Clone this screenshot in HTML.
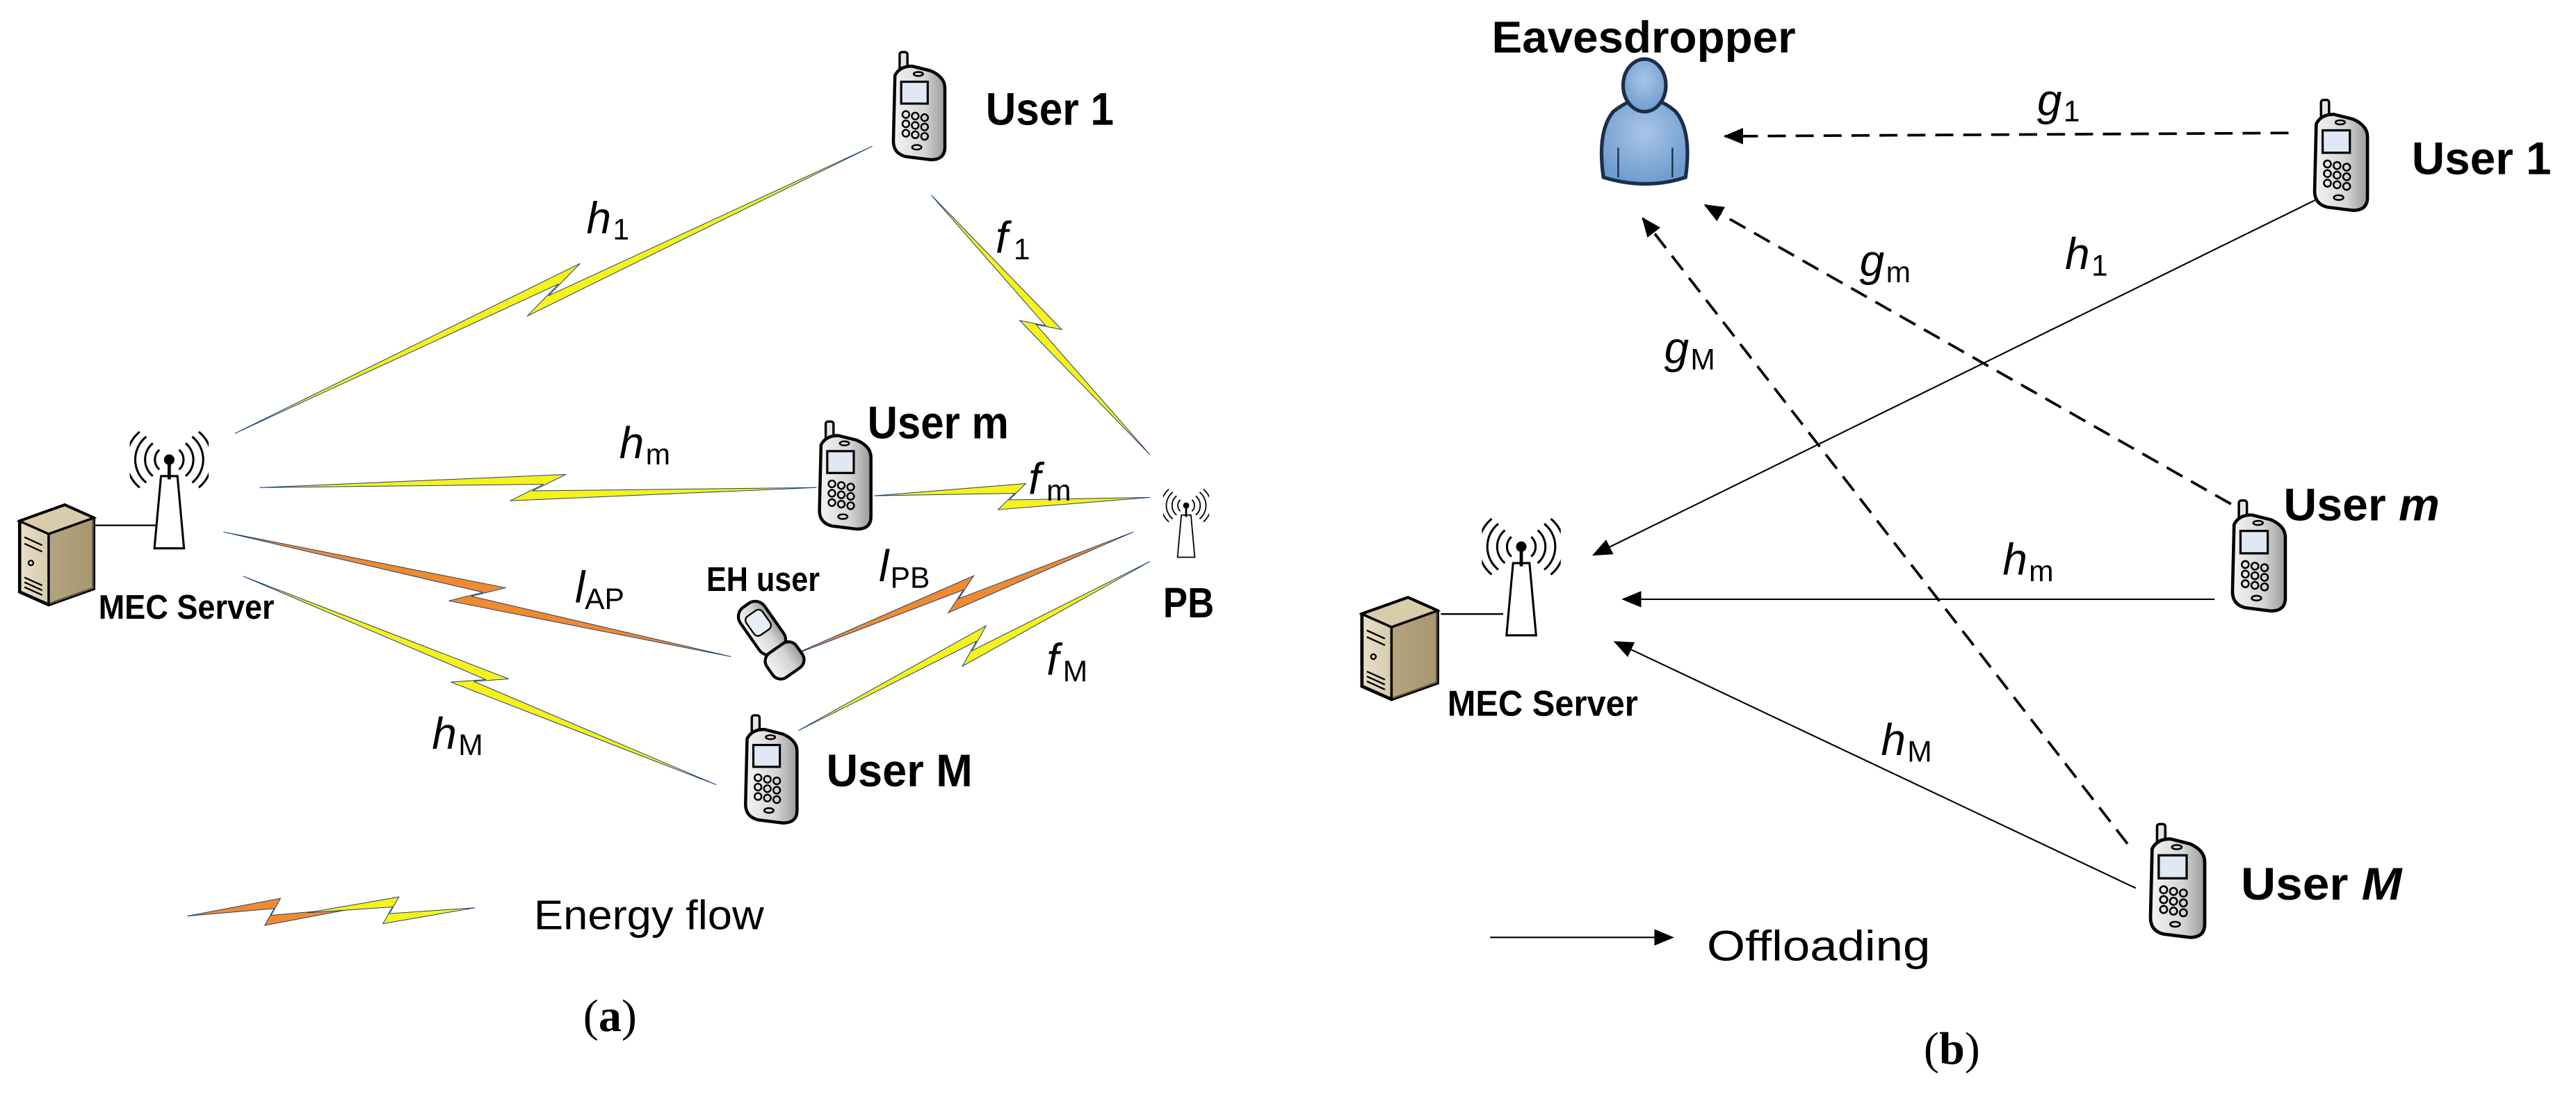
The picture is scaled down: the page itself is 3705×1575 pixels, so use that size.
<!DOCTYPE html>
<html><head><meta charset="utf-8"><style>
html,body{margin:0;padding:0;background:#fff;}
svg{display:block;}
text{font-family:"Liberation Sans",sans-serif;fill:#000;}
.b{font-weight:bold;}
.it{font-style:italic;}
.sr{font-family:"Liberation Serif",serif;}
</style></head><body>
<svg width="3705" height="1575" viewBox="0 0 1568 667" preserveAspectRatio="none" xmlns="http://www.w3.org/2000/svg">
<defs>
<linearGradient id="pg" x1="0" x2="1"><stop offset="0" stop-color="#f4f4f4"/><stop offset="0.6" stop-color="#d4d4d4"/><stop offset="1" stop-color="#9a9a9a"/></linearGradient>
<linearGradient id="sg" x1="0" x2="1"><stop offset="0" stop-color="#e9e0c8"/><stop offset="1" stop-color="#b9a983"/></linearGradient>
<radialGradient id="bg" cx="0.5" cy="0.4" r="0.6"><stop offset="0" stop-color="#a9c6e6"/><stop offset="1" stop-color="#6e9ccf"/></radialGradient>
<symbol id="phone" viewBox="0 0 40 72">
<rect x="8" y="1" width="5" height="12" rx="1.5" fill="#e6e6e6" stroke="#000" stroke-width="1.5"/>
<path d="M5 16 Q8 10 16 10 L28 13 Q37 17 37 24 L37 62 Q37 70 28 70 L12 68 Q4 66 4 58 Z" fill="url(#pg)" stroke="#000" stroke-width="2"/>
<rect x="9" y="20" width="17" height="14" fill="#dfe8f4" stroke="#000" stroke-width="1.4"/>
<g fill="none" stroke="#000" stroke-width="1.1">
<circle cx="12" cy="41" r="2.2"/><circle cx="18" cy="42" r="2.2"/><circle cx="24" cy="43" r="2.2"/>
<circle cx="12" cy="47" r="2.2"/><circle cx="18" cy="48" r="2.2"/><circle cx="24" cy="49" r="2.2"/>
<circle cx="12" cy="53" r="2.2"/><circle cx="18" cy="54" r="2.2"/><circle cx="24" cy="55" r="2.2"/>
<ellipse cx="19" cy="62" rx="3" ry="1.5"/><ellipse cx="20" cy="15" rx="3" ry="1.3"/></g>
</symbol>
<symbol id="server" viewBox="0 0 50 66">
<path d="M2 12 L30 2 L48 10 L48 54 L20 64 L2 56 Z" fill="url(#sg)" stroke="#000" stroke-width="2"/>
<path d="M2 12 L30 2 L48 10 L20 20 Z" fill="#d9ccaa"/>
<path d="M20 20 L48 10 L48 54 L20 64 Z" fill="#9d8a63" opacity="0.6"/>
<path d="M2 12 L30 2 L48 10 L20 20 Z M20 20 L20 64" fill="none" stroke="#000" stroke-width="1.5"/>
<g stroke="#000" stroke-width="1" fill="none"><path d="M5 22 L16 27 M5 26 L16 31 M5 47 L16 52 M5 50 L16 55 M5 53 L16 58"/><circle cx="9" cy="38" r="1.5"/></g>
</symbol>
<symbol id="ant" viewBox="0 0 48 74">
<path d="M19 28 L29 28 L33 72 L15 72 Z" fill="#fff" stroke="#000" stroke-width="1.3"/>
<line x1="24" y1="18" x2="24" y2="30" stroke="#000" stroke-width="2"/>
<circle cx="24" cy="18" r="3.2" fill="#000"/>
<g fill="none" stroke="#000" stroke-width="1.3">
<path d="M18 12 A8 8 0 0 0 18 24 M30 12 A8 8 0 0 1 30 24"/>
<path d="M14 8 A13 13 0 0 0 14 28 M34 8 A13 13 0 0 1 34 28"/>
<path d="M10 4 A18 18 0 0 0 10 32 M38 4 A18 18 0 0 1 38 32"/>
<path d="M6 1 A22 22 0 0 0 6 35 M42 1 A22 22 0 0 1 42 35"/>
</g></symbol>
<marker id="ah" viewBox="0 0 12 10" refX="11" refY="5" markerWidth="12" markerHeight="10" markerUnits="userSpaceOnUse" orient="auto">
<path d="M0 0 L12 5 L0 10 Z" fill="#000"/></marker>
</defs>

<!-- ============ Panel (a) ============ -->
<g>
<g transform="translate(143,264) rotate(-24.27) scale(0.4256,1)"><polygon points="0,0 550,-8 490,2 1000,0 450,8 510,-2" fill="#f6f21a" stroke="#1f3f7a" vector-effect="non-scaling-stroke"/></g>
<g transform="translate(567,119) rotate(49.91) scale(0.2065,1)"><polygon points="0,0 550,-8 490,2 1000,0 450,8 510,-2" fill="#f6f21a" stroke="#1f3f7a" vector-effect="non-scaling-stroke"/></g>
<g transform="translate(158,297) rotate(0) scale(0.339,1)"><polygon points="0,0 550,-8 490,2 1000,0 450,8 510,-2" fill="#f6f21a" stroke="#1f3f7a" vector-effect="non-scaling-stroke"/></g>
<g transform="translate(532,302) rotate(0.34) scale(0.168,1)"><polygon points="0,0 550,-8 490,2 1000,0 450,8 510,-2" fill="#f6f21a" stroke="#1f3f7a" vector-effect="non-scaling-stroke"/></g>
<g transform="translate(136,324) rotate(13.82) scale(0.3182,1)"><polygon points="0,0 550,-8 490,2 1000,0 450,8 510,-2" fill="#f08a2c" stroke="#1f3f7a" vector-effect="non-scaling-stroke"/></g>
<g transform="translate(480,400) rotate(-19.9) scale(0.2233,1)"><polygon points="0,0 550,-8 490,2 1000,0 450,8 510,-2" fill="#f08a2c" stroke="#1f3f7a" vector-effect="non-scaling-stroke"/></g>
<g transform="translate(148,351) rotate(23.8) scale(0.3148,1)"><polygon points="0,0 550,-8 490,2 1000,0 450,8 510,-2" fill="#f6f21a" stroke="#1f3f7a" vector-effect="non-scaling-stroke"/></g>
<g transform="translate(486,445) rotate(-25.7) scale(0.2375,1)"><polygon points="0,0 550,-8 490,2 1000,0 450,8 510,-2" fill="#f6f21a" stroke="#1f3f7a" vector-effect="non-scaling-stroke"/></g>
<g transform="translate(114,558) rotate(-2.8) scale(0.104,1)"><polygon points="0,0 550,-8 490,2 1000,0 450,8 510,-2" fill="#f08a2c" stroke="#1f3f7a" vector-effect="non-scaling-stroke"/></g>
<g transform="translate(187,556) rotate(-1.7) scale(0.102,1)"><polygon points="0,0 550,-8 490,2 1000,0 450,8 510,-2" fill="#f6f21a" stroke="#1f3f7a" vector-effect="non-scaling-stroke"/></g>
</g>

<line x1="58" y1="320" x2="95" y2="320" stroke="#000" stroke-width="1"/>
<use href="#server" x="10" y="305" width="49" height="66"/>
<use href="#ant" x="79" y="262" width="48" height="74"/>
<use href="#ant" x="708" y="291" width="28" height="56"/>
<use href="#phone" x="540" y="30" width="38" height="70"/>
<use href="#phone" x="495" y="255" width="38" height="70"/>
<use href="#phone" x="450" y="434" width="38" height="70"/>
<g transform="translate(469,390) rotate(-35)">
<rect x="-9" y="-26" width="18" height="34" rx="7" fill="url(#pg)" stroke="#000" stroke-width="1.8"/>
<rect x="-6" y="-20" width="12" height="14" rx="3" fill="#e8eef6" stroke="#000" stroke-width="1"/>
<rect x="-11" y="6" width="22" height="18" rx="6" fill="url(#pg)" stroke="#000" stroke-width="1.8"/>
</g>

<text class="b" x="600" y="76" font-size="28" textLength="78" lengthAdjust="spacingAndGlyphs">User 1</text>
<text class="b" x="528" y="267" font-size="28" textLength="86" lengthAdjust="spacingAndGlyphs">User m</text>
<text class="b" x="430" y="360" font-size="21" textLength="69" lengthAdjust="spacingAndGlyphs">EH user</text>
<text class="b" x="503" y="479" font-size="28" textLength="89" lengthAdjust="spacingAndGlyphs">User M</text>
<text class="b" x="708" y="376" font-size="26" textLength="31" lengthAdjust="spacingAndGlyphs">PB</text>
<text class="b" x="60" y="377" font-size="21" textLength="107" lengthAdjust="spacingAndGlyphs">MEC Server</text>

<g font-size="27">
<text class="it" x="357" y="142">h</text><text x="373" y="146" font-size="18">1</text>
<text class="it" x="606" y="154">f</text><text x="617" y="158" font-size="18">1</text>
<text class="it" x="377" y="279">h</text><text x="393" y="283" font-size="18">m</text>
<text class="it" x="626" y="301">f</text><text x="637" y="305" font-size="18">m</text>
<text class="it" x="350" y="367">l</text><text x="356" y="371" font-size="18">AP</text>
<text class="it" x="535" y="354">l</text><text x="542" y="358" font-size="18">PB</text>
<text class="it" x="637" y="411">f</text><text x="647" y="415" font-size="18">M</text>
<text class="it" x="263" y="456">h</text><text x="279" y="460" font-size="18">M</text>
</g>
<text x="325" y="566" font-size="25" textLength="140" lengthAdjust="spacingAndGlyphs">Energy flow</text>
<text class="sr" x="355" y="628" font-size="28">(<tspan font-weight="bold">a</tspan>)</text>

<!-- ============ Panel (b) ============ -->
<g stroke="#000" stroke-width="1.6" stroke-dasharray="11,6" fill="none">
<line x1="1393" y1="81" x2="1050" y2="83" marker-end="url(#ah)"/>
<line x1="1358" y1="307" x2="1038" y2="125" marker-end="url(#ah)"/>
<line x1="1295" y1="514" x2="1000" y2="133" marker-end="url(#ah)"/>
</g>
<g stroke="#000" stroke-width="0.9" fill="none">
<line x1="1409" y1="122" x2="970" y2="338" marker-end="url(#ah)"/>
<line x1="1348" y1="365" x2="988" y2="365" marker-end="url(#ah)"/>
<line x1="1300" y1="541" x2="983" y2="391" marker-end="url(#ah)"/>
<line x1="907" y1="571" x2="1018" y2="571" marker-end="url(#ah)"/>
</g>

<g stroke="#1b2f4a" stroke-width="2.2" fill="url(#bg)">
<path d="M976 108 Q972 80 982 68 Q992 60 1001 60 Q1011 60 1020 68 Q1030 80 1026 108 Q1002 116 976 108 Z"/>
<ellipse cx="1001" cy="52" rx="13" ry="16"/>
</g>
<g stroke="#1b2f4a" stroke-width="1" fill="none"><path d="M985 90 L985 108 M1018 90 L1018 108"/></g>

<line x1="877" y1="374" x2="915" y2="374" stroke="#000" stroke-width="1"/>
<use href="#server" x="827" y="360" width="50" height="70"/>
<use href="#ant" x="902" y="313" width="48" height="78"/>
<use href="#phone" x="1405" y="58" width="39" height="74"/>
<use href="#phone" x="1355" y="302" width="39" height="74"/>
<use href="#phone" x="1305" y="500" width="40" height="74"/>

<text class="b" x="908" y="32" font-size="27" textLength="185" lengthAdjust="spacingAndGlyphs">Eavesdropper</text>
<text class="b" x="1468" y="106" font-size="28" textLength="85" lengthAdjust="spacingAndGlyphs">User 1</text>
<text class="b" x="1390" y="317" font-size="28" textLength="95" lengthAdjust="spacingAndGlyphs">User <tspan font-style="italic">m</tspan></text>
<text class="b" x="1364" y="548" font-size="28" textLength="98" lengthAdjust="spacingAndGlyphs">User <tspan font-style="italic">M</tspan></text>
<text class="b" x="881" y="436" font-size="22" textLength="116" lengthAdjust="spacingAndGlyphs">MEC Server</text>

<g font-size="27">
<text class="it" x="1240" y="70">g</text><text x="1256" y="74" font-size="18">1</text>
<text class="it" x="1257" y="164">h</text><text x="1273" y="168" font-size="18">1</text>
<text class="it" x="1132" y="168">g</text><text x="1148" y="172" font-size="18">m</text>
<text class="it" x="1013" y="221">g</text><text x="1029" y="225" font-size="18">M</text>
<text class="it" x="1219" y="350">h</text><text x="1235" y="354" font-size="18">m</text>
<text class="it" x="1145" y="460">h</text><text x="1161" y="464" font-size="18">M</text>
</g>
<text x="1039" y="585" font-size="26" textLength="136" lengthAdjust="spacingAndGlyphs">Offloading</text>
<text class="sr" x="1171" y="648" font-size="28">(<tspan font-weight="bold">b</tspan>)</text>
</svg>
</body></html>
